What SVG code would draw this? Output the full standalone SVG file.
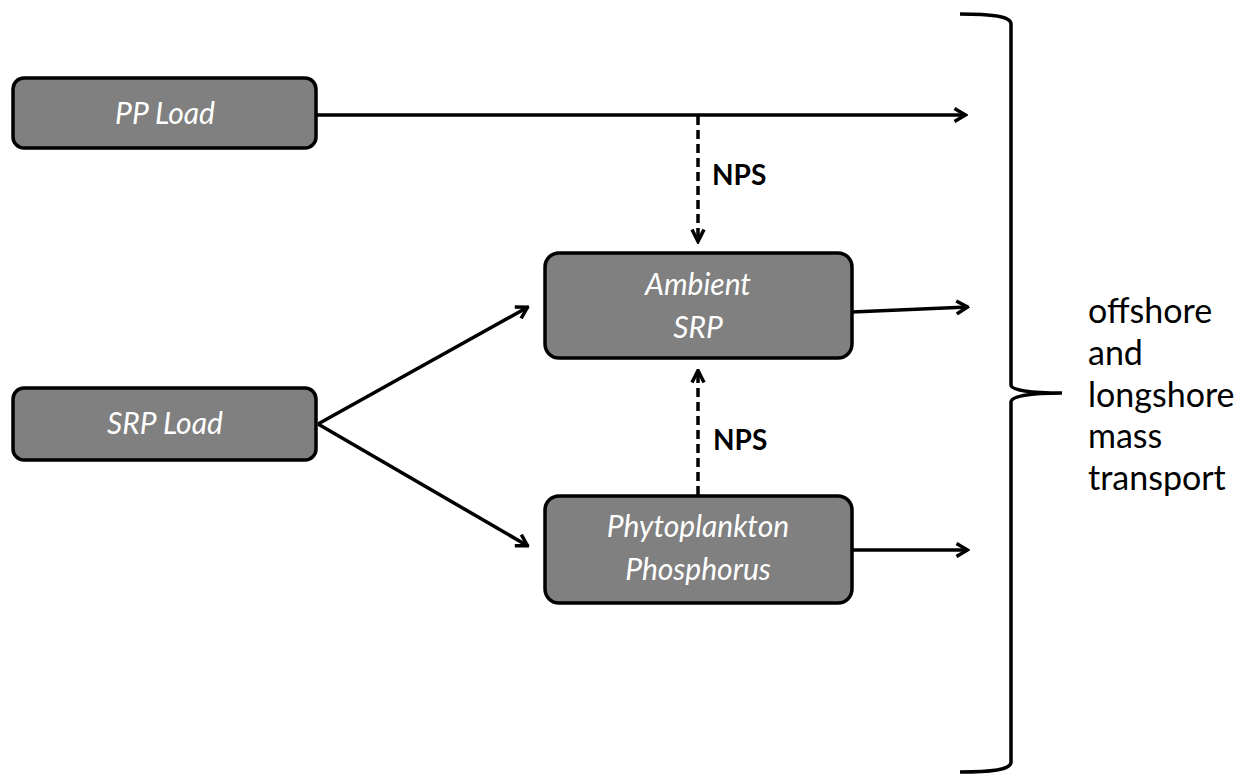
<svg xmlns="http://www.w3.org/2000/svg" width="1243" height="775" viewBox="0 0 1243 775">
<style>
.box{fill:#808080;stroke:#000;stroke-width:3.5}
.lbl{font-family:Lato,"Open Sans",sans-serif;font-style:italic;font-size:30px;fill:#fff;text-anchor:middle}
.ln{stroke:#000;stroke-width:3.5;fill:none}
.dash{stroke:#000;stroke-width:3.5;fill:none;stroke-dasharray:9,5}
.nps{font-family:Lato,"Open Sans",sans-serif;font-weight:bold;font-size:28px;fill:#000}
.side{font-family:Lato,"Open Sans",sans-serif;font-size:34px;fill:#000}
</style>
<defs>
<marker id="ah" viewBox="0 0 16 16" refX="14.5" refY="8" markerWidth="16" markerHeight="16" markerUnits="userSpaceOnUse" orient="auto">
<path d="M3,1.5 L14,8 L3,14.5" fill="none" stroke="#000" stroke-width="3.5"/>
</marker>
<marker id="ah2" viewBox="0 0 16 16" refX="14.5" refY="8" markerWidth="16" markerHeight="16" markerUnits="userSpaceOnUse" orient="auto">
<path d="M2,2 L14,8 L2,14" fill="none" stroke="#000" stroke-width="3.5"/>
</marker>
</defs>
<g id="connectors">
<line class="ln" x1="316" y1="115" x2="966" y2="115" marker-end="url(#ah)"/>
<line class="ln" x1="852" y1="312" x2="968" y2="307" marker-end="url(#ah)"/>
<line class="ln" x1="852" y1="550" x2="968" y2="550" marker-end="url(#ah)"/>
<line class="ln" x1="318" y1="424" x2="528" y2="307" marker-end="url(#ah)"/>
<line class="ln" x1="318" y1="424" x2="528" y2="546" marker-end="url(#ah)"/>
<line class="dash" x1="698" y1="116" x2="698" y2="242" marker-end="url(#ah2)"/>
<line class="dash" x1="698" y1="495" x2="698" y2="370" marker-end="url(#ah2)"/>
<text class="nps" x="712" y="185">NPS</text>
<text class="nps" x="713" y="450">NPS</text>
</g>
<g id="pp-load">
<rect class="box" x="13" y="78" width="303" height="70" rx="11"/>
<text class="lbl" x="165" y="124">PP Load</text>
</g>
<g id="srp-load">
<rect class="box" x="13" y="388" width="303" height="72" rx="11"/>
<text class="lbl" x="165" y="434">SRP Load</text>
</g>
<g id="ambient-srp">
<rect class="box" x="545" y="253" width="307" height="105" rx="14"/>
<text class="lbl" x="698" y="295">Ambient</text>
<text class="lbl" x="698" y="338">SRP</text>
</g>
<g id="phyto-p">
<rect class="box" x="545" y="496" width="307" height="107" rx="14"/>
<text class="lbl" x="698" y="537">Phytoplankton</text>
<text class="lbl" x="698" y="580">Phosphorus</text>
</g>
<g id="brace">
<path class="ln" stroke-width="4" d="M960,14 C990,14 1011,16 1011,24 L1011,385 C1011,390 1030,393 1062,393 C1030,393 1011,396 1011,402 L1011,762 C1011,770 990,772 960,772"/>
<text class="side" x="1088" y="323">offshore</text>
<text class="side" x="1088" y="365">and</text>
<text class="side" x="1088" y="407">longshore</text>
<text class="side" x="1088" y="448">mass</text>
<text class="side" x="1088" y="490">transport</text>
</g>
</svg>
